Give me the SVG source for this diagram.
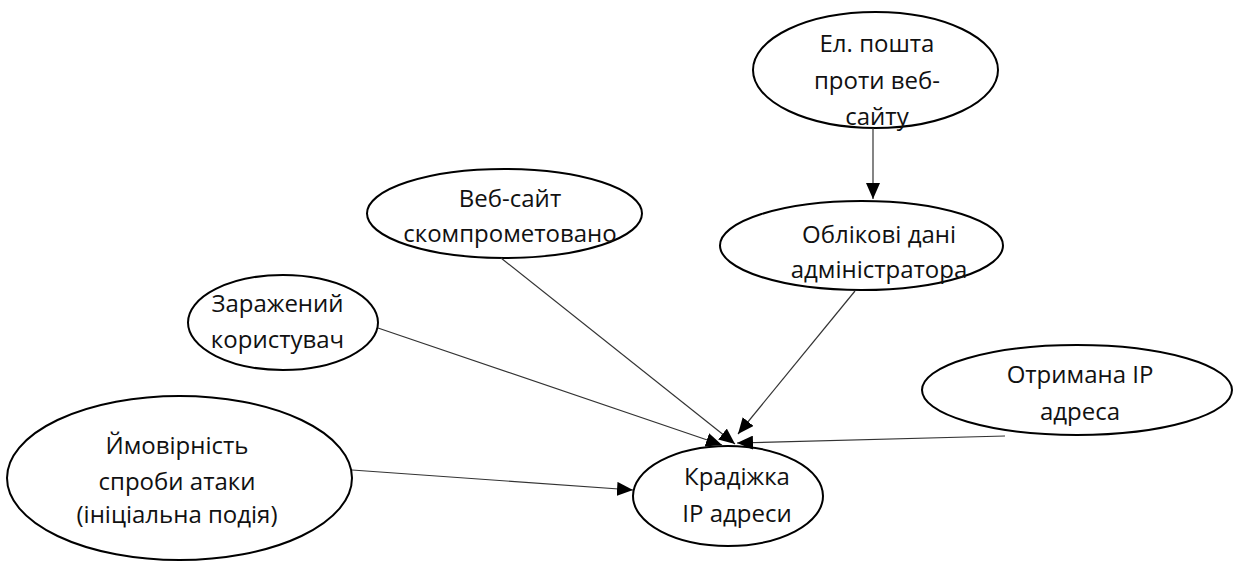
<svg xmlns="http://www.w3.org/2000/svg" width="1234" height="564" viewBox="0 0 1234 564">
<defs>
<style>
.node ellipse{fill:#fff;stroke:#000;stroke-width:2}
.node text{font-family:"Open Sans","Noto Sans","Liberation Sans",sans-serif;font-size:24px;fill:#111;text-anchor:middle}
.edge{stroke:#333;stroke-width:1.2;fill:none;marker-end:url(#arr)}
</style>
<marker id="arr" markerUnits="userSpaceOnUse" markerWidth="16" markerHeight="14" viewBox="0 0 16 14" refX="16" refY="7" orient="auto">
<path d="M0,0 L16,7 L0,14 Z" fill="#000"/>
</marker>
</defs>
<g id="n-email" class="node">
<ellipse cx="875.5" cy="70" rx="122.5" ry="58"/>
<text x="877" y="52">Ел. пошта</text>
<text x="877" y="89">проти веб-</text>
<text x="877" y="125">сайту</text>
</g>
<g id="n-admin" class="node">
<ellipse cx="861.5" cy="245.5" rx="141.5" ry="44.5"/>
<text x="879" y="243">Облікові дані</text>
<text x="879" y="278">адміністратора</text>
</g>
<g id="n-website" class="node">
<ellipse cx="504.5" cy="213.5" rx="137.5" ry="44.5"/>
<text x="510" y="207">Веб-сайт</text>
<text x="510" y="242">скомпрометовано</text>
</g>
<g id="n-user" class="node">
<ellipse cx="283" cy="322.5" rx="95" ry="47.5"/>
<text x="277.5" y="312">Заражений</text>
<text x="277.5" y="348">користувач</text>
</g>
<g id="n-ip" class="node">
<ellipse cx="1077" cy="390" rx="155" ry="45"/>
<text x="1080" y="383">Отримана IP</text>
<text x="1080" y="420">адреса</text>
</g>
<g id="n-prob" class="node">
<ellipse cx="179.5" cy="478" rx="172.5" ry="82"/>
<text x="177" y="454">Ймовірність</text>
<text x="177" y="490">спроби атаки</text>
<text x="177" y="523">(ініціальна подія)</text>
</g>
<g id="n-theft" class="node">
<ellipse cx="728" cy="496" rx="95" ry="50"/>
<text x="737" y="485">Крадіжка</text>
<text x="737" y="522">IP адреси</text>
</g>
<g id="connectors">
<line class="edge" x1="873" y1="128" x2="873" y2="199"/>
<line class="edge" x1="855" y1="291" x2="738" y2="434"/>
<line class="edge" x1="501" y1="258" x2="735" y2="444"/>
<line class="edge" x1="378" y1="328" x2="722" y2="445"/>
<line class="edge" x1="1005" y1="436" x2="737" y2="443"/>
<line class="edge" x1="352" y1="470" x2="633" y2="490"/>
</g>
</svg>
